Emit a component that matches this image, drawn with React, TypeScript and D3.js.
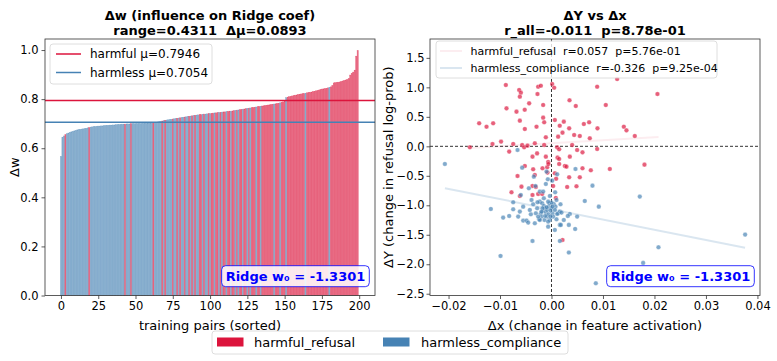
import React, { useEffect, useRef } from 'react';
import * as d3 from 'd3';

const W = 777;
const H = 361;

const RED = '#DC143C';
const BLUE = '#4682B4';

// Δw per training pair, sorted ascending
const barValues = [
  0.567, 0.645, 0.650, 0.655, 0.659, 0.662, 0.665, 0.667, 0.669, 0.671,
  0.673, 0.675, 0.676, 0.677, 0.678, 0.679, 0.680, 0.681, 0.683, 0.684,
  0.686, 0.687, 0.688, 0.688, 0.689, 0.690, 0.690, 0.691, 0.691, 0.692,
  0.692, 0.693, 0.693, 0.694, 0.694, 0.695, 0.695, 0.696, 0.696, 0.697,
  0.697, 0.698, 0.698, 0.698, 0.699, 0.699, 0.699, 0.700, 0.700, 0.700,
  0.700, 0.701, 0.701, 0.701, 0.701, 0.702, 0.702, 0.702, 0.703, 0.703,
  0.703, 0.704, 0.704, 0.705, 0.706, 0.707, 0.708, 0.709, 0.711, 0.712,
  0.714, 0.715, 0.716, 0.717, 0.718, 0.719, 0.720, 0.721, 0.722, 0.723,
  0.724, 0.725, 0.726, 0.727, 0.728, 0.729, 0.730, 0.731, 0.732, 0.733,
  0.734, 0.735, 0.736, 0.737, 0.737, 0.738, 0.739, 0.739, 0.740, 0.741,
  0.741, 0.742, 0.743, 0.744, 0.744, 0.745, 0.746, 0.746, 0.747, 0.748,
  0.748, 0.749, 0.750, 0.751, 0.751, 0.752, 0.753, 0.754, 0.755, 0.756,
  0.757, 0.758, 0.759, 0.760, 0.761, 0.762, 0.763, 0.764, 0.765, 0.766,
  0.767, 0.768, 0.769, 0.770, 0.771, 0.772, 0.773, 0.774, 0.775, 0.776,
  0.777, 0.778, 0.779, 0.780, 0.781, 0.782, 0.783, 0.785, 0.787, 0.789,
  0.792, 0.806, 0.808, 0.810, 0.811, 0.813, 0.814, 0.816, 0.817, 0.819,
  0.820, 0.821, 0.822, 0.823, 0.824, 0.826, 0.827, 0.828, 0.829, 0.831,
  0.832, 0.834, 0.835, 0.837, 0.839, 0.841, 0.842, 0.843, 0.844, 0.846,
  0.848, 0.850, 0.855, 0.866, 0.867, 0.868, 0.869, 0.870, 0.872, 0.874,
  0.876, 0.878, 0.880, 0.884, 0.898, 0.905, 0.910, 0.918, 0.975, 0.998,
];

// r = harmful_refusal, b = harmless_compliance (one letter per bar)
const barGroups = [
  'bbbrbbbbbb', 'bbbbbbbbbr', 'bbbbbbbbbb', 'bbbbbbbbbb', 'bbbrbbbrbb',
  'bbbbbbbbbb', 'bbrbbbbbrb', 'rbbbbrbbrb', 'rbbrbbrbrb', 'rbbrrbrbbr',
  'brrbrrbrbr', 'rbrrbrrbrb', 'rrbrrbrbrr', 'rbrrbrrrrr', 'rrrbrrrbrr',
  'rbrrrrrrrr', 'rrrrbrrrrr', 'rrrrrrrrrr', 'brrrrrrrrr', 'rrrrrrrrrr',
].join('').split('');

const meanHarmful = 0.7946;
const meanHarmless = 0.7054;

const leftXTicks = [0, 25, 50, 75, 100, 125, 150, 175, 200];
const leftYTicks = [0, 0.2, 0.4, 0.6, 0.8, 1.0];
const rightXTicks = [-0.02, -0.01, 0, 0.01, 0.02, 0.03, 0.04];
const rightYTicks = [-2.5, -2.0, -1.5, -1.0, -0.5, 0, 0.5, 1.0, 1.5];

// (Δx, ΔY) for harmful_refusal pairs
const harmfulPts = [
  [-0.00887, 1.040], [-0.00628, 0.955], [-0.00595, 0.910], [-0.00615, 0.842], [-0.00259, 1.011],
  [-0.00207, 1.028], [-0.00272, 0.887], [0.00013, 1.056], [0.00052, 0.994], [-0.00874, 0.644],
  [-0.00680, 0.588], [-0.00434, 0.729], [-0.00162, 0.701], [-0.01405, 0.390], [-0.01262, 0.333],
  [-0.01133, 0.390], [-0.00615, 0.435], [-0.00518, 0.294], [-0.00291, 0.333], [-0.00162, 0.486],
  [-0.00142, 0.407], [0.00065, 0.446], [-0.01146, 0.040], [-0.01586, -0.017], [-0.00744, 0.040],
  [-0.00822, -0.090], [-0.00570, 0.023], [-0.00531, -0.017], [-0.00466, 0.011], [-0.00324, 0.051],
  [-0.00142, 0.023], [-0.00110, 0.153], [0.00129, 0.164], [0.00110, -0.017], [0.00149, -0.051],
  [-0.00369, -0.175], [-0.00110, -0.175], [-0.00065, -0.266], [0.00117, -0.192], [0.00149, -0.215],
  [-0.00518, -0.333], [-0.00356, -0.390], [-0.00175, -0.373], [-0.00084, -0.356], [0.00149, -0.299],
  [-0.00660, -0.503], [-0.00324, -0.486], [0.00065, -0.458], [-0.00583, -0.684], [-0.00369, -0.672],
  [-0.00304, -0.689], [0.00032, -0.672], [-0.00777, -0.780], [-0.00615, -0.842], [-0.00369, -0.825],
  [-0.00259, -0.808], [0.00084, -0.876], [-0.00078, -0.446], [-0.00181, -0.808], [0.01275, 1.141],
  [0.00887, 1.011], [0.02058, 0.887], [0.01055, 0.701], [0.00472, 0.684], [0.00239, 0.418],
  [0.00628, 0.379], [0.00731, 0.407], [0.00893, 0.305], [0.01405, 0.333], [0.01456, 0.271],
  [0.01618, 0.175], [0.00343, 0.305], [0.00214, 0.232], [0.00440, 0.192], [0.00550, 0.175],
  [0.00744, 0.136], [0.00401, 0.023], [0.00498, -0.062], [0.00602, -0.102], [0.00887, -0.045],
  [0.00356, -0.175], [0.00259, -0.333], [0.00291, -0.345], [0.00602, -0.373], [0.00764, -0.407],
  [0.01133, -0.384], [0.01806, -0.311], [0.00343, -0.525], [0.00550, -0.525], [0.00304, -0.689],
  [0.00485, -0.678], [0.00214, -1.588], [-0.00360, 1.630], [-0.00520, 0.620], [0.00160, 0.350],
  [-0.00280, -0.120], [0.00090, -0.550], [-0.00980, 0.080], [0.00350, 0.780], [-0.00060, -0.300],
];

// (Δx, ΔY) for harmless_compliance pairs
const harmlessPts = [
  [-0.02071, -0.299], [-0.00660, -0.062], [-0.00570, -0.362], [-0.00343, -0.514], [-0.00311, -0.672],
  [-0.00440, -0.712], [-0.00110, -0.638], [-0.00071, -0.559], [0.00013, -0.582], [0.00110, -0.475],
  [0.00071, -0.780], [-0.00032, -0.842], [-0.00595, -0.825], [-0.00744, -0.949], [-0.00388, -0.910],
  [-0.00356, -0.983], [-0.00227, -0.938], [-0.00181, -0.966], [-0.00149, -1.011], [-0.00129, -1.051],
  [-0.00162, -1.090], [-0.00110, -1.119], [-0.00084, -1.079], [-0.00052, -1.023], [-0.00039, -0.966],
  [0.00000, -1.051], [0.00019, -1.136], [0.00045, -0.977], [0.00078, -1.023], [0.00129, -1.136],
  [-0.00207, -1.136], [-0.00194, -1.192], [-0.00239, -1.237], [-0.00136, -1.249], [-0.00084, -1.192],
  [-0.00032, -1.249], [-0.00058, -1.153], [-0.00304, -1.136], [-0.00401, -1.153], [-0.00421, -1.079],
  [-0.00744, -1.068], [-0.00647, -1.192], [-0.00550, -1.260], [-0.00485, -1.260], [-0.00453, -1.294],
  [-0.00324, -1.305], [0.00162, -1.107], [0.00162, -1.333], [-0.00369, -1.605], [0.00162, -1.605],
  [-0.01178, -1.062], [-0.00822, -1.181], [-0.00990, -1.859], [-0.00097, -0.429], [-0.00227, -0.768],
  [-0.00149, -0.881], [-0.00550, -1.023], [-0.00272, -0.949], [0.00000, -0.955], [0.00032, -1.192],
  [0.00110, -1.147], [-0.00065, -1.277], [-0.00227, -1.249], [-0.00019, -1.090], [-0.00097, -1.034],
  [-0.00175, -1.051], [0.00065, -1.079], [-0.00019, -1.192], [-0.00123, -1.181], [-0.00278, -1.051],
  [0.00019, -1.023], [-0.00065, -0.938], [-0.00259, -1.192], [0.00097, -1.237], [-0.00194, -1.107],
  [-0.00615, -1.107], [0.00097, -0.910], [-0.00939, -1.209], [-0.00065, -1.362], [0.00065, -1.418],
  [-0.00162, -0.768], [0.00466, -0.384], [0.00796, -0.667], [0.01715, -0.853], [0.00175, -0.983],
  [0.00647, -0.927], [0.00919, -1.023], [0.00194, -1.124], [0.00356, -1.147], [0.00317, -1.181],
  [0.00498, -1.192], [0.00181, -1.333], [0.00337, -1.333], [0.00460, -1.401], [0.00337, -1.802],
  [0.02078, -1.712], [0.03761, -1.497], [0.01780, -1.977], [0.00861, -2.322], [0.00239, -1.249],
];

// per-group linear fits (end points in data units)
const harmfulFit = [[-0.0159, -0.03], [0.0208, 0.16]];
const harmlessFit = [[-0.0207, -0.71], [0.0376, -1.72]];

const ridgeLabel = 'Ridge w\u2080 = -1.3301';

const App = () => {
  const ref = useRef<SVGSVGElement>(null);

  useEffect(() => {
    const svg = d3.select(ref.current);
    svg.selectAll('*').remove();
    const font = 'DejaVu Sans, sans-serif';
    svg.attr('font-family', font);

    const top = 39;
    const bottom = 295.5;
    const L = { x0: 45, x1: 375 };
    const R = { x0: 430, x1: 760 };
    const tickFont = 11.5;

    const styleAxis = (g) => {
      g.select('.domain').remove();
      g.selectAll('line').attr('stroke', '#333').attr('stroke-width', 0.8);
      g.selectAll('text').attr('font-size', tickFont).attr('fill', '#000').attr('font-family', font);
    };

    const addRidgeBox = (xRight) => {
      const t = svg.append('text')
        .attr('x', xRight - 7)
        .attr('y', 281)
        .attr('text-anchor', 'end')
        .attr('font-size', 13)
        .attr('font-weight', 'bold')
        .attr('fill', '#0000FF')
        .text(ridgeLabel);
      const bb = (t.node() as SVGTextElement).getBBox();
      svg.insert('rect', () => t.node())
        .attr('x', bb.x - 4)
        .attr('y', 265.7)
        .attr('width', bb.width + 8)
        .attr('height', 21)
        .attr('rx', 4)
        .attr('fill', '#fff')
        .attr('fill-opacity', 0.85)
        .attr('stroke', '#0000FF')
        .attr('stroke-width', 0.8);
    };

    // ---------- left panel: bars ----------
    const xL = d3.scaleLinear().domain([-10.7, 210.6]).range([L.x0, L.x1]);
    const yL = d3.scaleLinear().domain([0, 1.045]).range([bottom, top]);
    const bw = xL(0.8) - xL(0);

    svg.append('g')
      .selectAll('rect')
      .data(barValues)
      .join('rect')
      .attr('x', (d, i) => xL(i) - bw / 2)
      .attr('y', d => yL(d))
      .attr('width', bw)
      .attr('height', d => yL(0) - yL(d))
      .attr('fill', (d, i) => (barGroups[i] === 'r' ? RED : BLUE))
      .attr('fill-opacity', 0.6)
      .attr('stroke', (d, i) => (barGroups[i] === 'r' ? RED : BLUE))
      .attr('stroke-opacity', 0.5)
      .attr('stroke-width', 0.5);

    [[meanHarmful, RED], [meanHarmless, BLUE]].forEach(([v, c]) => {
      svg.append('line')
        .attr('x1', L.x0).attr('x2', L.x1)
        .attr('y1', yL(v as number)).attr('y2', yL(v as number))
        .attr('stroke', c as string).attr('stroke-width', 1.5);
    });

    svg.append('g')
      .attr('transform', `translate(0,${bottom})`)
      .call(d3.axisBottom(xL).tickValues(leftXTicks).tickSize(3.5).tickPadding(2.5).tickFormat(d3.format('d')))
      .call(styleAxis);
    svg.append('g')
      .attr('transform', `translate(${L.x0},0)`)
      .call(d3.axisLeft(yL).tickValues(leftYTicks).tickSize(3.5).tickPadding(3).tickFormat(d3.format('.1f')))
      .call(styleAxis);

    svg.append('rect')
      .attr('x', L.x0).attr('y', top)
      .attr('width', L.x1 - L.x0).attr('height', bottom - top)
      .attr('fill', 'none').attr('stroke', '#333').attr('stroke-width', 0.8);

    // left legend
    svg.append('rect')
      .attr('x', 50).attr('y', 44).attr('width', 162).attr('height', 40).attr('rx', 3)
      .attr('fill', '#fff').attr('fill-opacity', 0.8).attr('stroke', '#d6d6d6').attr('stroke-width', 0.8);
    [['harmful \u03bc=0.7946', RED], ['harmless \u03bc=0.7054', BLUE]].forEach(([label, c], i) => {
      const cy = 54 + i * 18.5;
      svg.append('line').attr('x1', 56).attr('x2', 81).attr('y1', cy).attr('y2', cy)
        .attr('stroke', c).attr('stroke-width', 1.5);
      svg.append('text').attr('x', 90).attr('y', cy).attr('dy', '0.35em')
        .attr('font-size', 12).text(label);
    });

    addRidgeBox(L.x1 - 2.7);

    // left titles
    const midL = (L.x0 + L.x1) / 2;
    svg.append('text').attr('x', midL).attr('y', 20).attr('text-anchor', 'middle')
      .attr('font-size', 13).attr('font-weight', 'bold').text('\u0394w (influence on Ridge coef)');
    svg.append('text').attr('x', midL).attr('y', 35).attr('text-anchor', 'middle')
      .attr('font-size', 13).attr('font-weight', 'bold').attr('xml:space', 'preserve')
      .style('white-space', 'pre').text('range=0.4311  \u0394\u03bc=0.0893');
    svg.append('text').attr('x', midL).attr('y', 329.5).attr('text-anchor', 'middle')
      .attr('font-size', 13).text('training pairs (sorted)');
    svg.append('text').attr('transform', `translate(19,${(top + bottom) / 2}) rotate(-90)`)
      .attr('text-anchor', 'middle').attr('font-size', 13).text('\u0394w');

    // ---------- right panel: scatter ----------
    const xR = d3.scaleLinear().domain([-0.0236, 0.0405]).range([R.x0, R.x1]);
    const yR = d3.scaleLinear().domain([-2.53, 1.82]).range([bottom, top]);
    const line = d3.line<number[]>().x(d => xR(d[0])).y(d => yR(d[1]));

    svg.append('path').attr('d', line(harmfulFit)).attr('stroke', RED).attr('stroke-opacity', 0.08)
      .attr('stroke-width', 2).attr('fill', 'none');
    svg.append('path').attr('d', line(harmlessFit)).attr('stroke', BLUE).attr('stroke-opacity', 0.2)
      .attr('stroke-width', 2).attr('fill', 'none');

    svg.append('line').attr('x1', xR(0)).attr('x2', xR(0)).attr('y1', top).attr('y2', bottom)
      .attr('stroke', '#000').attr('stroke-width', 0.8).attr('stroke-dasharray', '3,2');
    svg.append('line').attr('x1', R.x0).attr('x2', R.x1).attr('y1', yR(0)).attr('y2', yR(0))
      .attr('stroke', '#000').attr('stroke-width', 0.8).attr('stroke-dasharray', '3,2');

    [[harmfulPts, RED], [harmlessPts, BLUE]].forEach(([pts, c]) => {
      svg.append('g')
        .selectAll('circle')
        .data(pts as number[][])
        .join('circle')
        .attr('cx', d => xR(d[0]))
        .attr('cy', d => yR(d[1]))
        .attr('r', 2.3)
        .attr('fill', c as string)
        .attr('fill-opacity', 0.68)
        .attr('stroke', '#fff')
        .attr('stroke-width', 0.3);
    });

    svg.append('g')
      .attr('transform', `translate(0,${bottom})`)
      .call(d3.axisBottom(xR).tickValues(rightXTicks).tickSize(3.5).tickPadding(2.5).tickFormat(d3.format('.2f')))
      .call(styleAxis);
    svg.append('g')
      .attr('transform', `translate(${R.x0},0)`)
      .call(d3.axisLeft(yR).tickValues(rightYTicks).tickSize(3.5).tickPadding(2).tickFormat(d3.format('.1f')))
      .call(styleAxis);

    svg.append('rect')
      .attr('x', R.x0).attr('y', top)
      .attr('width', R.x1 - R.x0).attr('height', bottom - top)
      .attr('fill', 'none').attr('stroke', '#333').attr('stroke-width', 0.8);

    // right legend
    svg.append('rect')
      .attr('x', 436).attr('y', 41).attr('width', 281).attr('height', 37).attr('rx', 3)
      .attr('fill', '#fff').attr('fill-opacity', 0.8).attr('stroke', '#d6d6d6').attr('stroke-width', 0.8);
    [
      ['harmful_refusal  r=0.057  p=5.76e-01', RED, 0.08],
      ['harmless_compliance  r=-0.326  p=9.25e-04', BLUE, 0.2],
    ].forEach(([label, c, op], i) => {
      const cy = 51 + i * 17;
      svg.append('line').attr('x1', 440).attr('x2', 462).attr('y1', cy).attr('y2', cy)
        .attr('stroke', c as string).attr('stroke-opacity', op as number).attr('stroke-width', 2);
      svg.append('text').attr('x', 470.5).attr('y', cy).attr('dy', '0.35em')
        .attr('font-size', 11).attr('xml:space', 'preserve').style('white-space', 'pre').text(label as string);
    });

    addRidgeBox(R.x1 - 2.7);

    const midR = (R.x0 + R.x1) / 2;
    svg.append('text').attr('x', midR).attr('y', 20).attr('text-anchor', 'middle')
      .attr('font-size', 13).attr('font-weight', 'bold').text('\u0394Y vs \u0394x');
    svg.append('text').attr('x', midR).attr('y', 35).attr('text-anchor', 'middle')
      .attr('font-size', 13).attr('font-weight', 'bold').attr('xml:space', 'preserve')
      .style('white-space', 'pre').text('r_all=-0.011  p=8.78e-01');
    svg.append('text').attr('x', midR).attr('y', 329.5).attr('text-anchor', 'middle')
      .attr('font-size', 13).text('\u0394x (change in feature activation)');
    svg.append('text').attr('transform', `translate(393,${(top + bottom) / 2}) rotate(-90)`)
      .attr('text-anchor', 'middle').attr('font-size', 13).text('\u0394Y (change in refusal log-prob)');

    // ---------- figure legend ----------
    svg.append('rect')
      .attr('x', 212).attr('y', 331).attr('width', 356).attr('height', 23).attr('rx', 3)
      .attr('fill', '#fff').attr('stroke', '#d6d6d6').attr('stroke-width', 0.8);
    [['harmful_refusal', RED, 217, 254], ['harmless_compliance', BLUE, 383, 421]].forEach(([label, c, sx, tx]) => {
      svg.append('rect').attr('x', sx as number).attr('y', 337.5).attr('width', 26.5).attr('height', 9)
        .attr('fill', c as string);
      svg.append('text').attr('x', tx as number).attr('y', 342).attr('dy', '0.35em')
        .attr('font-size', 13).text(label as string);
    });
  }, []);

  return (
    <div style={{ position: 'absolute', left: 0, top: 0 }}>
      <svg ref={ref} width={W} height={H} style={{ display: 'block', background: '#fff' }} />
    </div>
  );
};

export default App;
